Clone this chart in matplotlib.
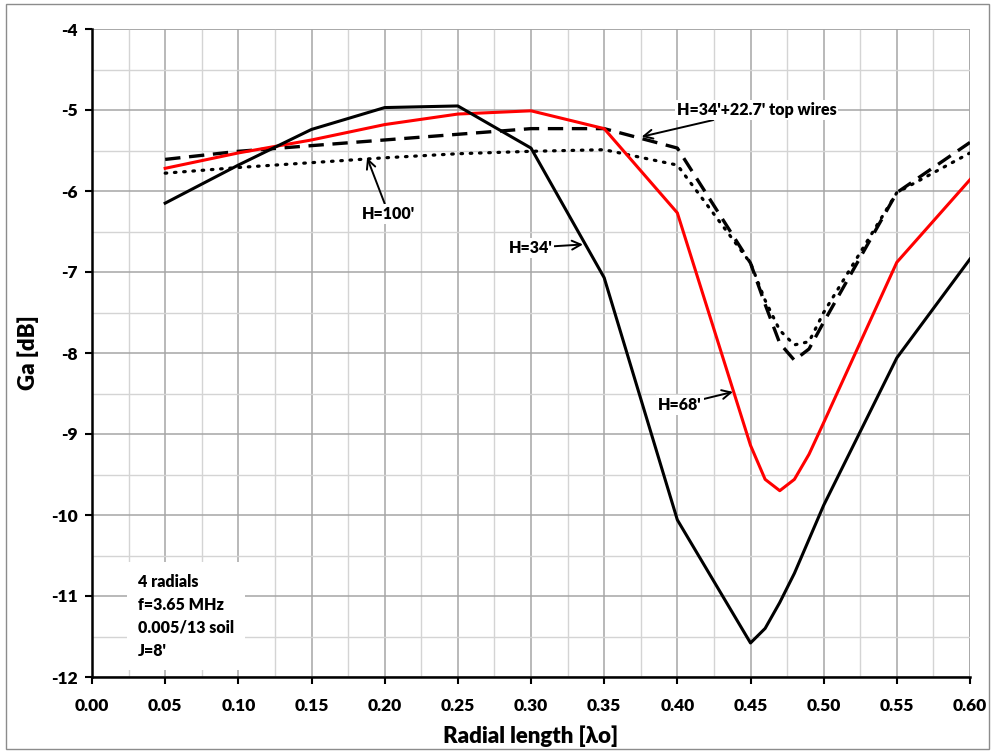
import matplotlib
matplotlib.use("Agg")
import matplotlib.pyplot as plt
from matplotlib.patches import Rectangle
from matplotlib.ticker import MultipleLocator, FormatStrFormatter

plt.rcParams['font.family'] = ['Lato', 'DejaVu Sans']
plt.rcParams['font.weight'] = 'heavy'
FW = 'heavy'

# radial length in wavelengths
radial_len = [0.05, 0.10, 0.15, 0.20, 0.25, 0.30, 0.35, 0.40,
              0.45, 0.46, 0.47, 0.48, 0.49, 0.50, 0.55, 0.60]

# average gain Ga [dB] for each configuration
ga_h34 = [-6.15, -5.68, -5.24, -4.97, -4.95, -5.47, -7.07, -10.06,
          -11.58, -11.40, -11.08, -10.72, -10.30, -9.88, -8.06, -6.84]
ga_h68 = [-5.72, -5.53, -5.37, -5.18, -5.05, -5.01, -5.23, -6.27,
          -9.14, -9.56, -9.70, -9.56, -9.25, -8.86, -6.88, -5.86]
ga_top = [-5.61, -5.51, -5.44, -5.37, -5.30, -5.23, -5.23, -5.47,
          -6.89, -7.40, -7.88, -8.09, -7.95, -7.62, -6.02, -5.40]
ga_h100 = [-5.78, -5.71, -5.65, -5.59, -5.54, -5.51, -5.49, -5.68,
           -6.89, -7.35, -7.72, -7.90, -7.86, -7.50, -6.02, -5.53]

W, H = 995, 753
fig = plt.figure(figsize=(W / 100, H / 100), dpi=100)
fig.patch.set_facecolor('white')

# chart-area border
fig.patches.append(Rectangle((6 / W, 4 / H), (989 - 6) / W, (749 - 4) / H,
                             transform=fig.transFigure, fill=False,
                             edgecolor='#8c8c8c', linewidth=1.0))

ax = fig.add_axes([92 / W, 1 - 677 / H, (970 - 92) / W, (677 - 29) / H])
ax.set_xlim(0.0, 0.60)
ax.set_ylim(-12, -4)

ax.xaxis.set_major_locator(MultipleLocator(0.05))
ax.xaxis.set_minor_locator(MultipleLocator(0.025))
ax.yaxis.set_major_locator(MultipleLocator(1))
ax.yaxis.set_minor_locator(MultipleLocator(0.5))
ax.xaxis.set_major_formatter(FormatStrFormatter('%.2f'))
ax.yaxis.set_major_formatter(FormatStrFormatter('%d'))

ax.grid(which='major', color='#a6a6a6', linewidth=1.1, zorder=0)
ax.grid(which='minor', color='#d4d4d4', linewidth=1.0, zorder=0)
ax.set_axisbelow(True)

for side in ('top', 'right'):
    ax.spines[side].set_visible(False)
for side in ('left', 'bottom'):
    ax.spines[side].set_linewidth(1.8)
    ax.spines[side].set_color('black')

ax.tick_params(which='major', direction='out', length=5, width=1.5,
               labelsize=12.5, pad=5)
ax.tick_params(axis='x', which='major', pad=10)
ax.tick_params(which='minor', length=0)
for lab in ax.get_xticklabels() + ax.get_yticklabels():
    lab.set_fontweight(FW)

# top border via the last gridlines
ax.axhline(-4, color='#a6a6a6', lw=1.1, zorder=0)
ax.axvline(0.60, color='#a6a6a6', lw=1.1, zorder=0)

ax.plot(radial_len, ga_h100, color='black', lw=2.3, linestyle=(0, (0.5, 2.4)),
        dash_capstyle='round', zorder=3)
ax.plot(radial_len, ga_top, color='black', lw=2.4, linestyle=(0, (4.6, 2.6)),
        zorder=3)
ax.plot(radial_len, ga_h68, color='#ff0000', lw=2.2, zorder=4)
ax.plot(radial_len, ga_h34, color='black', lw=2.2, zorder=5)

ax.set_xlabel('Radial length [λo]', fontsize=16, fontweight=FW, labelpad=8)
ax.set_ylabel('Ga [dB]', fontsize=16, fontweight=FW, labelpad=9)

box = dict(facecolor='white', edgecolor='none', pad=1.5)
arrow = dict(arrowstyle='->', color='black', lw=1.4, mutation_scale=16,
             shrinkA=0, shrinkB=0)
lab_fs = 11.5

ax.annotate("H=34'+22.7' top wires", xy=(0.3756, -5.33), xytext=(0.3995, -5.0),
            fontsize=lab_fs, fontweight=FW, ha='left', va='center',
            bbox=box, arrowprops=arrow, zorder=6)
ax.annotate("H=100'", xy=(0.188, -5.59), xytext=(0.1845, -6.28),
            fontsize=lab_fs, fontweight=FW, ha='left', va='center',
            bbox=box, arrowprops=arrow, zorder=6)
ax.annotate("H=34'", xy=(0.3355, -6.66), xytext=(0.3145, -6.70),
            fontsize=lab_fs, fontweight=FW, ha='right', va='center',
            bbox=box, arrowprops=arrow, zorder=6)
ax.annotate("H=68'", xy=(0.438, -8.48), xytext=(0.4165, -8.64),
            fontsize=lab_fs, fontweight=FW, ha='right', va='center',
            bbox=box, arrowprops=arrow, zorder=6)

ax.text(0.0315, -11.25, "4 radials\nf=3.65 MHz\n0.005/13 soil\nJ=8'",
        fontsize=lab_fs, fontweight=FW, ha='left', va='center',
        linespacing=1.55, zorder=6,
        bbox=dict(facecolor='white', edgecolor='none', pad=8))

fig.savefig('out.png', dpi=100)
